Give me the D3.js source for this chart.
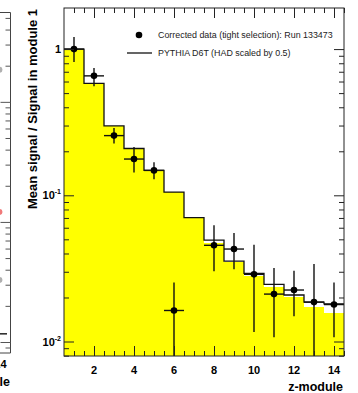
<!DOCTYPE html>
<html lang="en">
<head>
<meta charset="UTF-8">
<title>Mean signal per z-module</title>
<script src="https://d3js.org/d3.v7.min.js"></script>
<style>
  body { margin: 0; background: #fff; }
  svg { display: block; font-family: "Liberation Sans", Arial, Helvetica, sans-serif; }
</style>
</head>
<body>
<svg width="358" height="393"></svg>
<script>
// ---- data ----
const modules = [1, 2, 3, 4, 5, 6, 7, 8, 9, 10, 11, 12, 13, 14];
// yellow filled histogram
const fillHist = [1.0, 0.582, 0.298, 0.209, 0.148, 0.105, 0.0703, 0.0473, 0.0350, 0.0279, 0.0237, 0.0202, 0.0173, 0.0156];
// PYTHIA D6T (HAD scaled by 0.5), black line
const pythia = [1.0, 0.582, 0.298, 0.209, 0.148, 0.105, 0.0703, 0.0493, 0.0355, 0.0292, 0.0246, 0.0208, 0.0186, 0.0181];

// corrected data (tight selection), run 133473
const dataZ   = [1, 2, 3, 4, 5, 6, 8, 9, 10, 11, 12, 13, 14];
const dataVal = [1.0, 0.656, 0.256, 0.177, 0.148, 0.0163, 0.0455, 0.0429, 0.0288, 0.0211, 0.0225, 0.0186, 0.0179];
const dataHi  = [1.21, 0.741, 0.289, 0.214, 0.168, 0.0253, 0.0623, 0.0552, 0.0459, 0.0318, 0.0305, 0.0339, 0.0253];
const dataLo  = [0.815, 0.558, 0.226, 0.143, 0.129, 0.001, 0.0302, 0.0312, 0.0116, 0.0107, 0.0149, 0.001, 0.0107];

const xMajor = [2, 4, 6, 8, 10, 12, 14];
const yMajor = [1, 0.1, 0.01];
const yMajorExp = ["", "-1", "-2"];

const legendLabels = ["Corrected data (tight selection): Run 133473", "PYTHIA D6T (HAD scaled by 0.5)"];

// neighbour panel, only its right edge is in the picture
const leftPts = [
  {z: 14, v: 1.85, c: "#b0b0b0"},
  {z: 14, v: 0.121, c: "#f07a7a"},
  {z: 14, v: 0.0329, c: "#b0b0b0"}
];
const leftBarV = 0.0117;

// ---- layout ----
const svg = d3.select("svg");
const x = d3.scaleLinear().domain([0.5, 14.5]).range([64, 344]);
const y = d3.scaleLog().domain([0.00796, 1.91]).range([356, 8]);

const xMinor = d3.range(1, 14.51, 0.5).filter(v => xMajor.indexOf(v) < 0);
const yMinor = [];
[-3, -2, -1, 0].forEach(n => {
  for (let k = 2; k <= 9; k++) {
    const v = k * Math.pow(10, n);
    if (v >= y.domain()[0] && v <= y.domain()[1]) yMinor.push(+v.toPrecision(3));
  }
});

svg.append("defs").append("clipPath").attr("id", "plotclip")
  .append("rect").attr("x", 64).attr("y", 8).attr("width", 280).attr("height", 348);

const plot = svg.append("g").attr("clip-path", "url(#plotclip)");

// yellow histogram
plot.append("g").selectAll("rect")
  .data(modules)
  .enter().append("rect")
  .attr("x", d => x(d - 0.5))
  .attr("width", x(1.5) - x(0.5) + 0.3)
  .attr("y", (d, i) => y(fillHist[i]))
  .attr("height", (d, i) => 356 - y(fillHist[i]))
  .attr("fill", "#ffff00")
  .attr("shape-rendering", "crispEdges");

// pythia step line
const stepPts = [];
modules.forEach((d, i) => {
  stepPts.push([d - 0.5, pythia[i]]);
  stepPts.push([d + 0.5, pythia[i]]);
});
plot.append("path")
  .datum(stepPts)
  .attr("fill", "none")
  .attr("stroke", "#111")
  .attr("stroke-width", 1.3)
  .attr("d", d3.line().x(d => x(d[0])).y(d => y(d[1])));

// data points with error bars
const pts = plot.append("g").attr("stroke", "#111").attr("stroke-width", 1.4);
pts.selectAll("line.v")
  .data(dataZ)
  .enter().append("line").attr("class", "v")
  .attr("x1", d => x(d)).attr("x2", d => x(d))
  .attr("y1", (d, i) => y(dataHi[i]))
  .attr("y2", (d, i) => y(dataLo[i]));
pts.selectAll("line.h")
  .data(dataZ)
  .enter().append("line").attr("class", "h")
  .attr("x1", d => x(d - 0.5)).attr("x2", d => x(d + 0.5))
  .attr("y1", (d, i) => y(dataVal[i]))
  .attr("y2", (d, i) => y(dataVal[i]));
plot.append("g").selectAll("circle")
  .data(dataZ)
  .enter().append("circle")
  .attr("cx", d => x(d))
  .attr("cy", (d, i) => y(dataVal[i]))
  .attr("r", 3.3)
  .attr("fill", "#000");

// ---- axes (ticks point inwards, ROOT style) ----
function tickAxis(axis, tr, vals, size) {
  const g = svg.append("g").attr("transform", tr)
    .call(axis.tickValues(vals).tickSize(size).tickFormat(""));
  g.select(".domain").remove();
  g.selectAll("line").attr("stroke", "#222");
}
tickAxis(d3.axisBottom(x), "translate(0,356)", xMinor, -5);
tickAxis(d3.axisBottom(x), "translate(0,356)", xMajor, -10);
tickAxis(d3.axisTop(x), "translate(0,8)", xMinor, -5);
tickAxis(d3.axisTop(x), "translate(0,8)", xMajor, -10);
tickAxis(d3.axisLeft(y), "translate(64,0)", yMinor, -5);
tickAxis(d3.axisLeft(y), "translate(64,0)", yMajor, -10);
tickAxis(d3.axisRight(y), "translate(344,0)", yMinor, -5);
tickAxis(d3.axisRight(y), "translate(344,0)", yMajor, -10);

svg.append("rect")
  .attr("x", 64).attr("y", 8).attr("width", 280).attr("height", 348)
  .attr("fill", "none").attr("stroke", "#222").attr("stroke-width", 1);

// tick labels
svg.append("g").selectAll("text")
  .data(xMajor)
  .enter().append("text")
  .attr("x", d => x(d))
  .attr("y", 374)
  .attr("text-anchor", "middle")
  .attr("font-size", 11).attr("font-weight", "bold")
  .text(d => d);

const yl = svg.append("g").selectAll("text")
  .data(yMajor)
  .enter().append("text")
  .attr("x", 61)
  .attr("y", d => y(d) + 4)
  .attr("text-anchor", "end")
  .attr("font-size", 11).attr("font-weight", "bold");
yl.append("tspan").text((d, i) => i === 0 ? "1" : "10");
yl.filter((d, i) => i > 0).append("tspan")
  .attr("font-size", 7).attr("dy", -5)
  .text((d, i) => yMajorExp[i + 1]);

// axis titles
svg.append("text")
  .attr("x", 343).attr("y", 391)
  .attr("text-anchor", "end")
  .attr("font-size", 12.5).attr("font-weight", "bold")
  .text("z-module");
svg.append("text")
  .attr("transform", "translate(36.5,109) rotate(-90)")
  .attr("text-anchor", "middle")
  .attr("font-size", 13).attr("font-weight", "bold")
  .text("Mean signal / Signal in module 1");

// legend
svg.append("circle").attr("cx", x(4.25)).attr("cy", 35).attr("r", 3.3).attr("fill", "#000");
svg.append("line")
  .attr("x1", 127).attr("x2", 152).attr("y1", 53).attr("y2", 53)
  .attr("stroke", "#111").attr("stroke-width", 1.3);
svg.append("g").selectAll("text")
  .data(legendLabels)
  .enter().append("text")
  .attr("x", 158)
  .attr("y", (d, i) => 38 + i * 18)
  .attr("font-size", 8.9)
  .attr("fill", "#222")
  .text(d => d);

// ---- right edge of the neighbouring panel ----
const xl = d3.scaleLinear().domain([0.5, 14.5]).range([-270, 10.5]);
const yl2 = d3.scaleLog().domain([0.0081, 5.6]).range([353, 12]);
const leftMinor = [];
[-3, -2, -1, 0].forEach(n => {
  for (let k = 2; k <= 9; k++) {
    const v = k * Math.pow(10, n);
    if (v >= yl2.domain()[0] && v <= yl2.domain()[1]) leftMinor.push(+v.toPrecision(3));
  }
});
const lp = svg.append("g");
lp.append("path")
  .attr("d", "M0,12.5H10.5V353H0")
  .attr("fill", "none").attr("stroke", "#444").attr("stroke-width", 1);
[[leftMinor, 5], [[1, 0.1, 0.01], 10]].forEach(([vals, sz]) => {
  const g = lp.append("g").attr("transform", "translate(10.5,0)")
    .call(d3.axisLeft(yl2).tickValues(vals).tickSize(sz).tickFormat(""));
  g.select(".domain").remove();
  g.selectAll("line").attr("stroke", "#555");
});
lp.selectAll("circle")
  .data(leftPts)
  .enter().append("circle")
  .attr("cx", d => xl(d.z) - 1)
  .attr("cy", d => yl2(d.v))
  .attr("r", 3)
  .attr("fill", d => d.c);
lp.append("line")
  .attr("x1", 0).attr("x2", 7)
  .attr("y1", yl2(leftBarV)).attr("y2", yl2(leftBarV))
  .attr("stroke", "#222").attr("stroke-width", 1.5);
lp.append("text")
  .attr("x", xl(14)).attr("y", 368)
  .attr("text-anchor", "middle")
  .attr("font-size", 11).attr("font-weight", "bold")
  .text("14");
lp.append("text")
  .attr("x", 10).attr("y", 386)
  .attr("text-anchor", "end")
  .attr("font-size", 12.5).attr("font-weight", "bold")
  .text("z-module");
</script>
</body>
</html>
